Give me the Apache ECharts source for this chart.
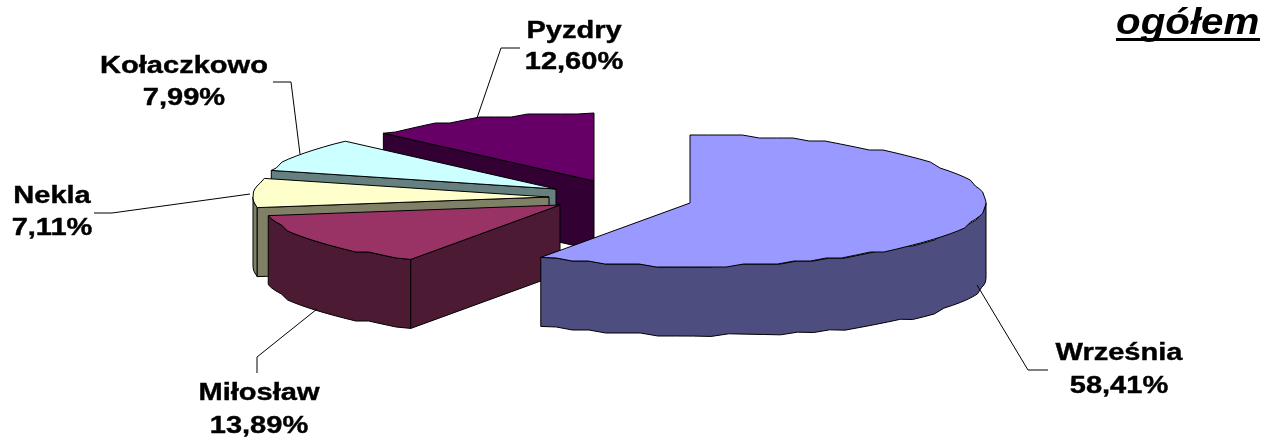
<!DOCTYPE html>
<html>
<head>
<meta charset="utf-8">
<style>html,body{margin:0;padding:0;background:#fff}#c{width:1264px;height:437px}</style>
<script src="https://cdn.jsdelivr.net/npm/echarts@6/dist/echarts.min.js"></script>
</head>
<body>
<div id="c"></div>
<script>
// Data
var categories = ['Września', 'Miłosław', 'Nekla', 'Kołaczkowo', 'Pyzdry'];
var shares = [58.41, 13.89, 7.11, 7.99, 12.60];
var chartTitle = 'ogółem';

// Styles
var topColors = ['#9999FF', '#993366', '#FFFFCC', '#CCFFFF', '#660066'];
var sideColors = ['#4D4D80', '#4D1A33', '#808066', '#668080', '#330033'];

// Layout: exploded slice apexes, label anchors, leader lines
var apexes = [[690, 203], [560, 205], [549, 197], [556, 189], [594, 181]];
var labelAnchors = [[1119, 353, 386], [259, 393, 426], [52, 196, 228], [184, 66, 98], [574, 31, 62]];
var leaders = [
  [[977, 285], [1028, 370], [1048, 370]],
  [[317, 309], [257, 357], [257, 373]],
  [[250, 194], [112, 213], [94, 213]],
  [[300, 154], [291, 82], [273, 82]],
  [[477, 118], [501, 48], [520, 48]]
];
var RX = 296, RY_BACK = 68, RY_FRONT = 63, DEPTH = 69, DEPTH_RIGHT = 6, JAG = 3, EPS = 1e-6;
var LABEL_FONT = 'bold 24px "Liberation Sans", Arial, sans-serif', LABEL_SCALE = 1.21;

var total = shares.reduce(function (a, b) { return a + b; }, 0);
function startAngle(i) {
  var s = 0;
  for (var k = 0; k < i; k++) s += shares[k];
  return s / total * Math.PI * 2;
}
function rimPoint(i, a, lowered, snap) {
  var c = Math.cos(a), s = Math.sin(a), o = apexes[i];
  var y = o[1] - (c >= 0 ? RY_BACK : RY_FRONT) * c;
  if (snap) y = Math.round(y / JAG) * JAG;
  if (lowered) y += DEPTH + DEPTH_RIGHT * Math.max(0, s);
  return [o[0] + RX * s, y];
}
function arc(i, a0, a1, lowered) {
  var n = Math.max(2, Math.ceil((a1 - a0) / 0.06)), pts = [];
  for (var k = 0; k <= n; k++) {
    pts.push(rimPoint(i, a0 + (a1 - a0) * k / n, lowered, k > 0 && k < n));
  }
  return pts;
}
function edgeFace(i, a) {
  var o = apexes[i], p = rimPoint(i, a, false), q = rimPoint(i, a, true);
  return [[o[0], o[1]], p, q, [o[0], o[1] + DEPTH]];
}
function fmt(v) { return v.toFixed(2).replace('.', ',') + '%'; }

function renderItem(params, api) {
  var i = params.dataIndex, v = api.value(0);
  var a0 = startAngle(i), a1 = a0 + v / total * Math.PI * 2;
  var z = 10 * (categories.length - i);
  var line = { stroke: '#000', lineWidth: 1, lineJoin: 'round' };
  function poly(points, fill, order) {
    return { type: 'polygon', z2: z + order, shape: { points: points },
      style: Object.assign({ fill: fill }, line) };
  }
  var children = [];
  // Only the faces turned towards the viewer are drawn
  var r0 = Math.max(a0, Math.PI / 2), r1 = Math.min(a1, Math.PI * 1.5);
  if (r1 > r0) {
    children.push(poly(arc(i, r0, r1, false).concat(arc(i, r0, r1, true).reverse()), sideColors[i], 0));
  }
  if (Math.sin(a0) < -EPS) children.push(poly(edgeFace(i, a0), sideColors[i], 1));
  if (Math.sin(a1) > EPS) children.push(poly(edgeFace(i, a1), sideColors[i], 2));
  var o = apexes[i], a = labelAnchors[i];
  children.push(poly([[o[0], o[1]]].concat(arc(i, a0, a1, false)), topColors[i], 3));
  function label(text, y) {
    return { type: 'text', x: a[0], y: y, scaleX: LABEL_SCALE, z2: 200,
      style: { text: text, font: LABEL_FONT, fill: '#000', stroke: '#000', lineWidth: 0.4, align: 'center', verticalAlign: 'middle' } };
  }
  children.push({ type: 'polyline', z2: 100, shape: { points: leaders[i] },
    style: { stroke: '#000', lineWidth: 1, fill: null } });
  children.push(label(categories[i], a[1]));
  children.push(label(fmt(v), a[2]));
  return { type: 'group', children: children };
}

var chart = echarts.init(document.getElementById('c'), null, { renderer: 'canvas' });
chart.setOption({
  animation: false,
  backgroundColor: '#fff',
  graphic: [
    { type: 'text', x: 1116, y: 24, scaleX: 1.12, z: 10,
      style: { text: chartTitle, font: 'italic bold 36px "Liberation Sans", Arial, sans-serif', fill: '#000', align: 'left', verticalAlign: 'middle' } },
    { type: 'rect', z: 10, shape: { x: 1116, y: 38, width: 144, height: 3 }, style: { fill: '#000' } }
  ],
  series: [{
    type: 'custom',
    coordinateSystem: 'none',
    silent: true,
    renderItem: renderItem,
    data: shares.map(function (v) { return [v]; })
  }]
});
</script>
</body>
</html>
